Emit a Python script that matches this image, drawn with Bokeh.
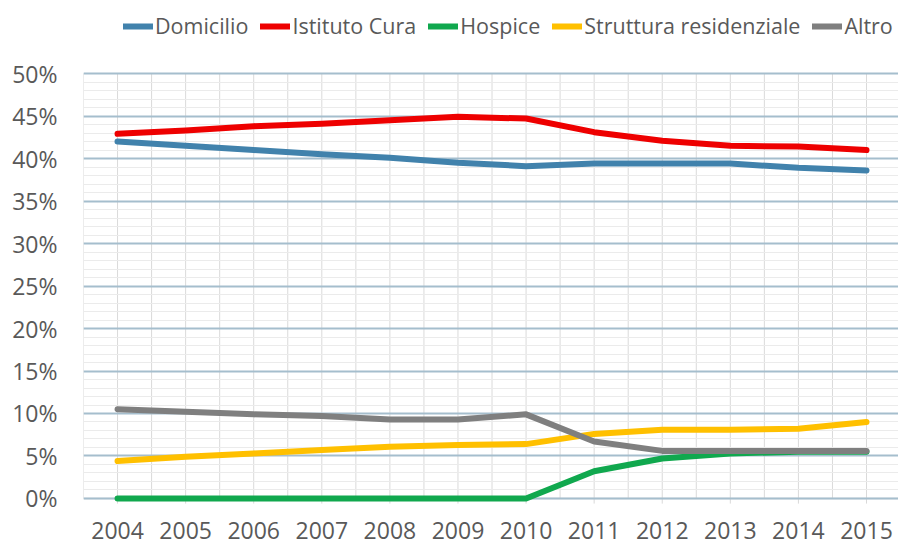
import numpy as np
from bokeh.plotting import figure
from bokeh.models import (Range1d, SingleIntervalTicker, PrintfTickFormatter,
                          Legend, LegendItem)
from bokeh.core.properties import value
from bokeh.embed import file_html
from bokeh.resources import INLINE

years = [2004, 2005, 2006, 2007, 2008, 2009, 2010, 2011, 2012, 2013, 2014, 2015]
year_labels = [str(y) for y in years]
domicilio = [42.0, 41.5, 41.0, 40.5, 40.1, 39.5, 39.1, 39.4, 39.4, 39.4, 38.9, 38.6]
istituto_cura = [42.9, 43.3, 43.8, 44.1, 44.5, 44.9, 44.7, 43.1, 42.1, 41.5, 41.4, 41.0]
hospice = [0.0, 0.0, 0.0, 0.0, 0.0, 0.0, 0.0, 3.2, 4.7, 5.3, 5.5, 5.5]
struttura = [4.4, 4.9, 5.3, 5.7, 6.1, 6.3, 6.4, 7.6, 8.1, 8.1, 8.2, 9.0]
altro = [10.5, 10.2, 9.9, 9.7, 9.3, 9.3, 9.9, 6.7, 5.6, 5.6, 5.6, 5.6]

series = [
    ("Domicilio", domicilio, "#4182AC"),
    ("Istituto Cura", istituto_cura, "#EE0000"),
    ("Hospice", hospice, "#10A84E"),
    ("Struttura residenziale", struttura, "#FFC000"),
    ("Altro", altro, "#7F7F7F"),
]

FONT = "Open Sans"
TXT = "#595959"
Y_MAX = 50

p = figure(width=898, height=545, output_backend="svg", toolbar_location=None,
           x_range=Range1d(2003.5, 2015.47), y_range=Range1d(-5.53, 58.59),
           min_border_left=83, min_border_right=0, min_border_top=0, min_border_bottom=0)
p.outline_line_color = None
p.background_fill_color = "white"
p.xaxis.visible = False

# horizontal grid (0% .. 50%)
p.ygrid.bounds = (0, Y_MAX)
p.ygrid.grid_line_color = "#A5BECD"
p.ygrid.grid_line_width = 2
p.ygrid.minor_grid_line_color = "#EBEBEB"
p.ygrid.minor_grid_line_width = 1

# vertical grid every half year (0% .. 50%) and small year ticks below 0%
p.xgrid.visible = False
half_years = np.arange(years[0] - 0.5, years[-1] + 0.51, 0.5)
p.segment(x0=half_years, y0=0, x1=half_years, y1=Y_MAX, line_color="#DADADA",
          line_width=1, level="underlay")
p.segment(x0=years, y0=0, x1=years, y1=-0.6, line_color="#D9D9D9", line_width=1,
          level="underlay")
p.segment(x0=[half_years[0]], y0=[0], x1=[half_years[-1]], y1=[0], line_color="#D9D9D9",
          line_width=1.5, level="underlay")

# year labels below the 0% line
p.text(x=years, y=[0] * len(years), text=year_labels, text_font=value(FONT),
       text_font_size="23px", text_color=TXT, text_align="center",
       text_baseline="middle", y_offset=32)

p.yaxis.bounds = (0, Y_MAX)
p.yaxis.ticker = SingleIntervalTicker(interval=5, num_minor_ticks=5)
p.yaxis.formatter = PrintfTickFormatter(format="%d%%")
p.yaxis.axis_line_color = None
p.yaxis.major_tick_line_color = None
p.yaxis.minor_tick_line_color = None
p.yaxis.major_tick_out = 0
p.yaxis.minor_tick_out = 0
p.yaxis.major_label_text_font = FONT
p.yaxis.major_label_text_font_size = "23px"
p.yaxis.major_label_text_color = TXT
p.yaxis.major_label_standoff = 26

items = []
for name, vals, col in series:
    r = p.line(years, vals, line_color=col, line_width=6, line_cap="round", line_join="round")
    items.append(LegendItem(label=name, renderers=[r]))

legend = Legend(items=items, orientation="horizontal", location=(40, 505),
                label_text_font=FONT, label_text_font_size="21.5px", label_text_color=TXT,
                glyph_width=30, glyph_height=20, label_standoff=2, spacing=12,
                padding=0, margin=0, border_line_color=None, background_fill_alpha=0)
p.add_layout(legend)

open("out.html", "w").write(file_html(p, INLINE))
